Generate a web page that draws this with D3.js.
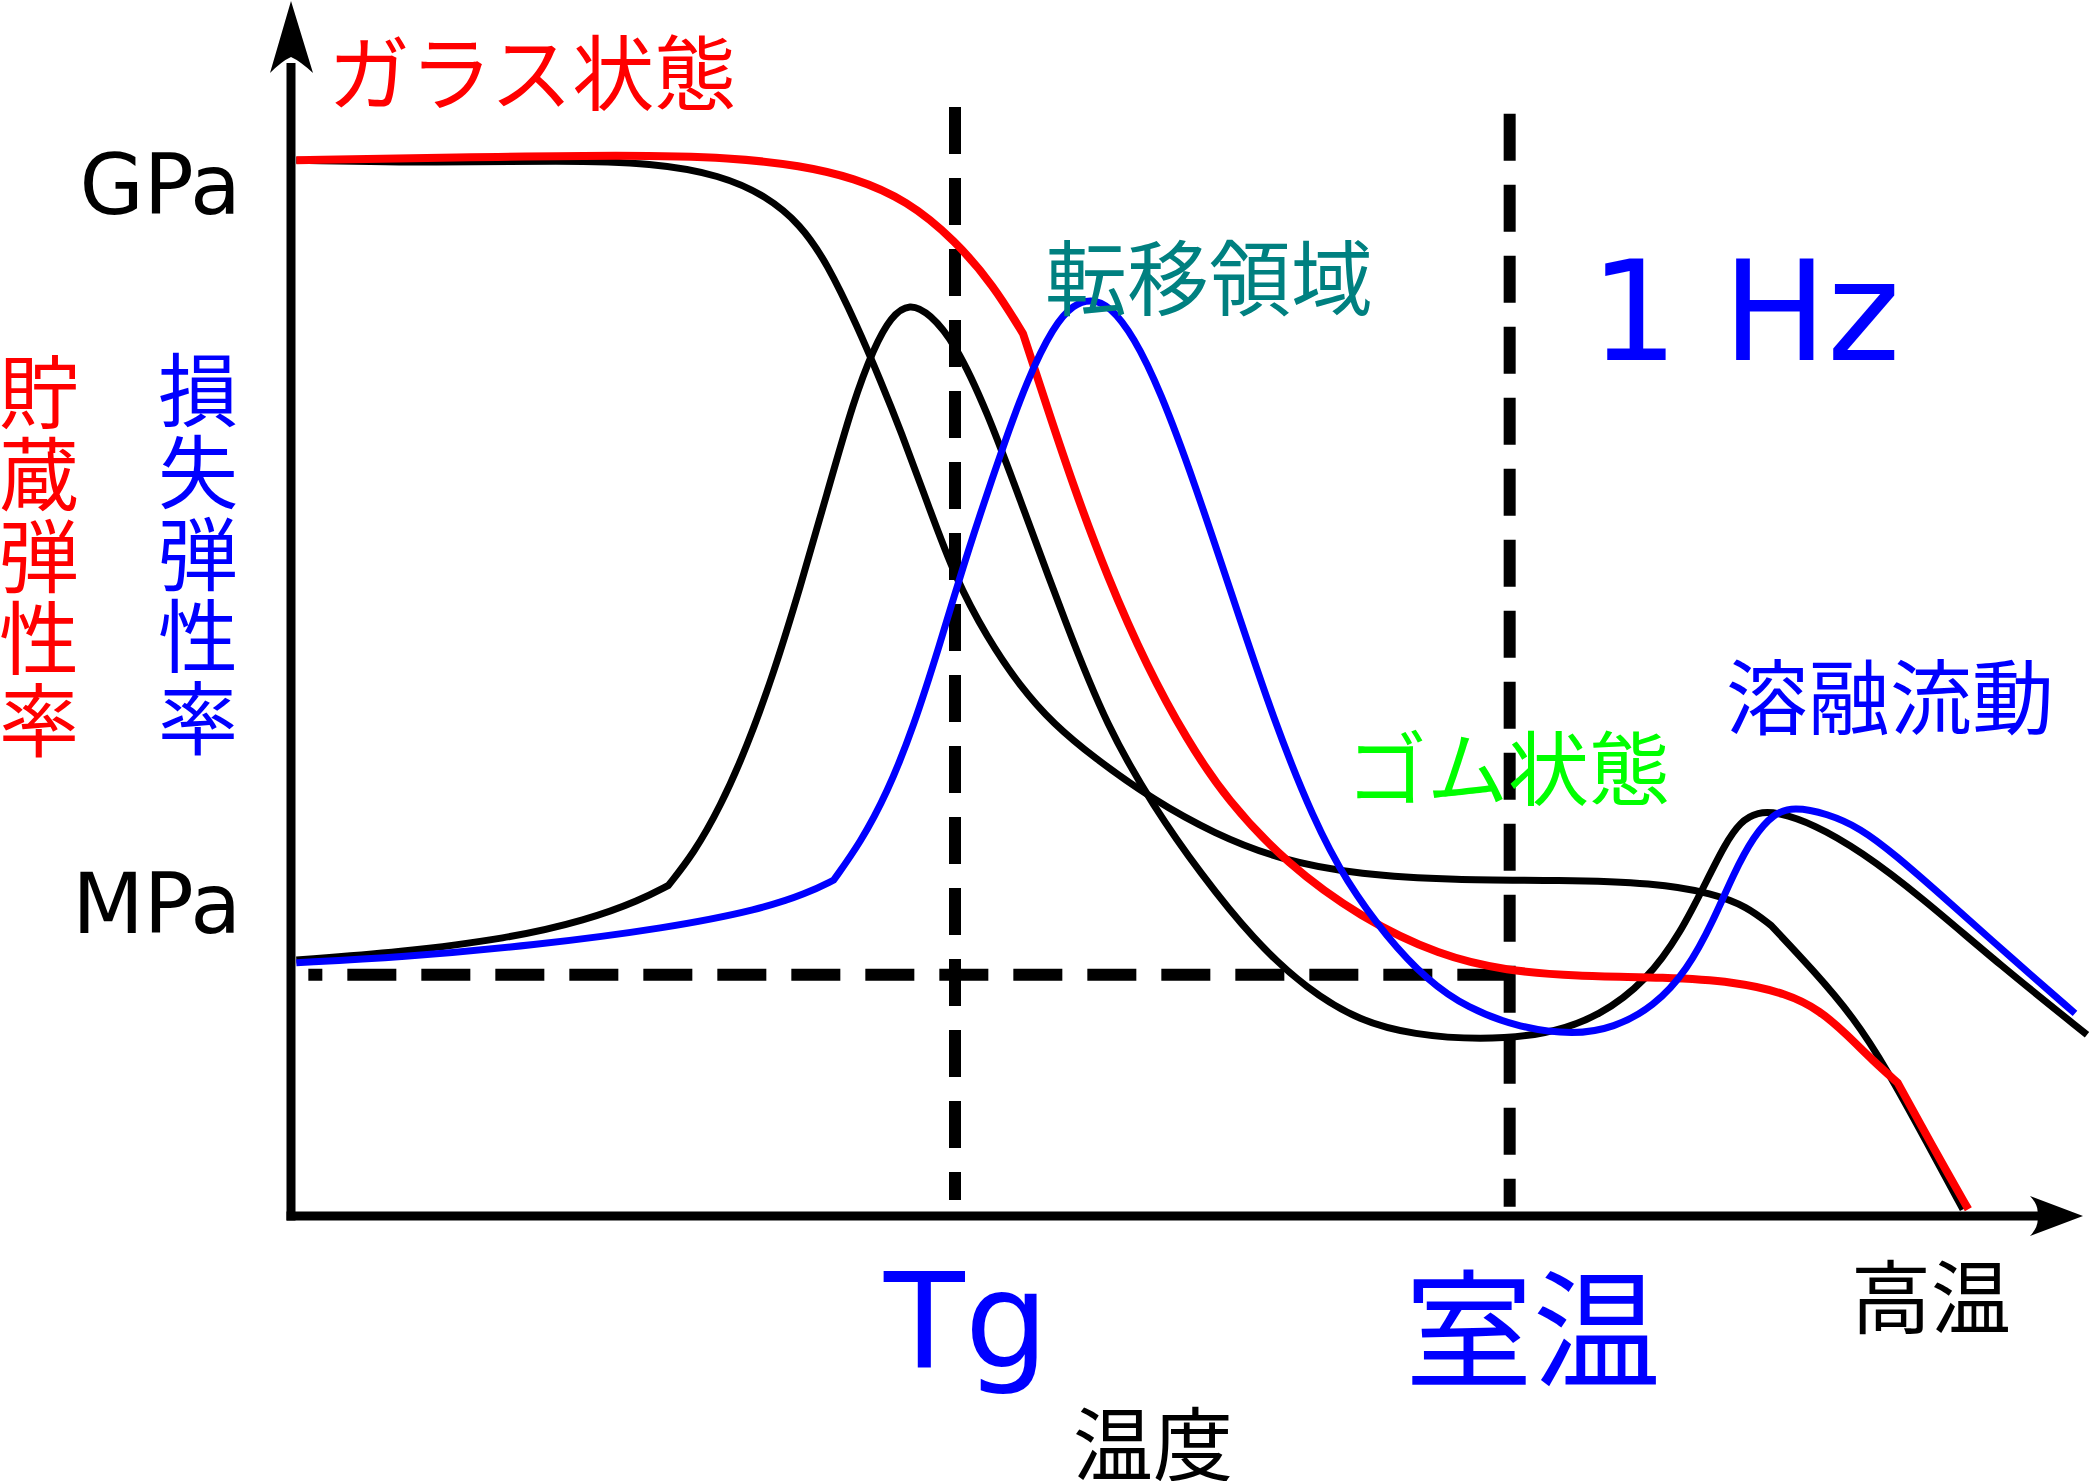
<!DOCTYPE html>
<html><head><meta charset="utf-8">
<script src="https://cdn.jsdelivr.net/npm/d3@7"></script>
<style>html,body{margin:0;padding:0;background:#fff;} svg{display:block}</style>
</head><body>
<svg id="chart" width="2091" height="1481"></svg>
<script>
// ---- data (relative temperature, relative log-modulus) ----
const storageRed = [[4,792],[122,794],[252,796],[332,794],[382,788],[422,779],[462,762],[498,732],[527,698],[549,662],[567,607],[587,547],[612,480],[642,412],[672,357],[702,312],[747,264],[802,224],[862,195],[912,184],[962,180],[1032,179],[1082,176],[1122,167],[1147,154],[1167,136],[1187,116],[1205,100],[1222,69],[1242,33],[1258,5]];
const storageBlack = [[4,792],[112,790],[202,792],[272,790],[322,781],[357,765],[382,744],[402,715],[425,667],[442,627],[457,590],[478,533],[498,479],[522,434],[547,397],[572,369],[602,344],[647,312],[692,287],[742,267],[802,256],[872,252],[952,252],[1022,250],[1067,242],[1092,232],[1110,218],[1142,184],[1172,149],[1197,110],[1227,55],[1254,5]];
const lossBlack = [[4,192],[82,198],[162,208],[222,222],[262,237],[283,248],[302,272],[322,307],[342,352],[362,407],[382,472],[402,542],[422,612],[437,651],[450,675],[464,685],[479,677],[498,655],[522,604],[547,537],[582,442],[612,367],[647,307],[682,257],[722,207],[762,170],[802,146],[842,136],[892,132],[942,136],[982,150],[1017,177],[1042,212],[1062,252],[1075,278],[1087,296],[1100,303],[1115,303],[1142,294],[1177,274],[1222,240],[1282,188],[1347,136]];
const lossBlue = [[4,190],[82,194],[182,203],[282,216],[352,230],[387,242],[407,252],[427,280],[447,317],[467,367],[487,430],[500,474],[517,527],[534,577],[552,627],[572,668],[587,684],[600,688],[614,683],[632,660],[652,619],[677,552],[707,462],[737,372],[767,297],[792,250],[822,209],[852,177],[882,156],[922,141],[962,136],[992,141],[1022,157],[1047,184],[1067,222],[1082,257],[1097,285],[1112,302],[1127,307],[1152,302],[1177,291],[1202,272],[1242,237],[1292,192],[1338,152]];
// indices of sharp corners in each series
const redCorners = [9, 27];
const blackStorageCorners = [26];
const blackLossCorners = [5];
const blueCorners = [6];
const refTemps = [498, 914];           // Tg, room temperature
const refModulus = 181;                 // horizontal reference level
const yTickLabels = ["GPa", "MPa"];
const yTickValues = [752, 212];
const xTickLabels = ["Tg", "室温", "高温"];
const storageTitle = "貯蔵弾性率";
const lossTitle = "損失弾性率";
const regionLabels = ["ガラス状態", "転移領域", "ゴム状態", "溶融流動"];
const freqLabel = "1 Hz";
const xTitle = "温度";

// ---- scales ----
const x = d3.scaleLinear().domain([0, 1344]).range([291, 2083]);
const y = d3.scaleLinear().domain([0, 910]).range([1216, 3]);
const svg = d3.select("#chart");
svg.append("rect").attr("width",2091).attr("height",1481).attr("fill","#fff");

const JP = "'Noto Sans CJK JP', 'Noto Sans CJK SC', sans-serif";
const LAT = "'DejaVu Sans', sans-serif";

// ---- reference dashed lines ----
svg.append("line").attr("x1", x(refTemps[0])).attr("x2", x(refTemps[0]))
  .attr("y1", y(832)).attr("y2", y(12))
  .attr("stroke","#000").attr("stroke-width",12).attr("stroke-dasharray","47,24");
svg.append("line").attr("x1", x(refTemps[1])).attr("x2", x(refTemps[1]))
  .attr("y1", y(827)).attr("y2", y(7))
  .attr("stroke","#000").attr("stroke-width",12).attr("stroke-dasharray","47,24");
svg.append("line").attr("x1", x(13)).attr("x2", x(916))
  .attr("y1", y(refModulus)).attr("y2", y(refModulus))
  .attr("stroke","#000").attr("stroke-width",12).attr("stroke-dasharray","49,25").attr("stroke-dashoffset",35);

// ---- curves ----
const line = d3.line().x(d => x(d[0])).y(d => y(d[1])).curve(d3.curveBasis);
function drawCurve(data, corners, color, w) {
  const cuts = [0, ...corners, data.length - 1];
  let d = "";
  for (let i = 0; i < cuts.length - 1; i++) {
    const seg = line(data.slice(cuts[i], cuts[i + 1] + 1));
    d += i === 0 ? seg : "L" + seg.slice(1).replace(/^[^CL]*/, m => m);
  }
  svg.append("path").attr("d", d).attr("fill","none")
    .attr("stroke", color).attr("stroke-width", w)
    .attr("stroke-linejoin","miter").attr("stroke-linecap","butt");
}
drawCurve(storageBlack, blackStorageCorners, "#000", 7);
drawCurve(lossBlack, blackLossCorners, "#000", 7);
drawCurve(storageRed, redCorners, "#ff0000", 8);
drawCurve(lossBlue, blueCorners, "#0000ff", 7);

// ---- axes ----
const x0 = x.range()[0], y0 = y.range()[0];
const xEnd = x.range()[1], yEnd = y.range()[1];
svg.append("line").attr("x1", x0).attr("x2", x0).attr("y1", y0 + 4.5).attr("y2", yEnd + 60)
  .attr("stroke","#000").attr("stroke-width",9);
svg.append("line").attr("x1", x0 - 4.5).attr("x2", xEnd - 45).attr("y1", y0).attr("y2", y0)
  .attr("stroke","#000").attr("stroke-width",9);
svg.append("path").attr("fill","#000")
  .attr("d", `M${x0},${yEnd-2} L${x0+22},${yEnd+70} Q${x0+9},${yEnd+58} ${x0},${yEnd+54} Q${x0-9},${yEnd+58} ${x0-21},${yEnd+70} Z`);
svg.append("path").attr("fill","#000")
  .attr("d", `M${xEnd},${y0} L${xEnd-53},${y0-20} Q${xEnd-43},${y0-9} ${xEnd-46},${y0} Q${xEnd-43},${y0+9} ${xEnd-53},${y0+20} Z`);

// ---- y tick labels ----
yTickLabels.forEach((t, i) => {
  svg.append("text").text(t).attr("x", x0 - 50).attr("y", y(yTickValues[i]))
    .attr("text-anchor","end").attr("font-family", LAT).attr("font-size", 83).attr("fill","#000");
});

// ---- x labels ----
svg.append("text").text(xTickLabels[0]).attr("x", x(refTemps[0]) - 71).attr("y", 1367)
  .attr("font-family", LAT).attr("font-size", 132).attr("fill","#0000ff");
svg.append("text").text(xTickLabels[1]).attr("x", x(refTemps[1]) - 105).attr("y", 1322)
  .attr("dominant-baseline","central").attr("font-family", JP).attr("font-size", 128).attr("fill","#0000ff");
svg.append("text").text(xTickLabels[2]).attr("x", 1851).attr("y", 1292)
  .attr("dominant-baseline","central").attr("font-family", JP).attr("font-size", 80).attr("fill","#000");
svg.append("text").text(xTitle).attr("x", 1073).attr("y", 1439)
  .attr("dominant-baseline","central").attr("font-family", JP).attr("font-size", 80).attr("fill","#000");

// ---- vertical axis titles ----
function vText(str, cx, cy0, color) {
  const t = svg.append("text").attr("font-family", JP).attr("font-size", 80).attr("fill", color)
    .attr("text-anchor","middle").attr("dominant-baseline","central");
  Array.from(str).forEach((ch, i) => {
    t.append("tspan").attr("x", cx).attr("y", cy0 + i * 82).text(ch);
  });
}
vText(storageTitle, 39, 387, "#ff0000");
vText(lossTitle, 198, 385, "#0000ff");

// ---- region labels ----
const regionStyle = [
  {x: 328, y: 68, c: "#ff0000", s: 82},
  {x: 1045, y: 273, c: "#008080", s: 82},
  {x: 1346, y: 763, c: "#00ff00", s: 81},
  {x: 1726, y: 692, c: "#0000ff", s: 82}
];
regionLabels.forEach((t, i) => {
  const s = regionStyle[i];
  svg.append("text").text(t).attr("x", s.x).attr("y", s.y).attr("dominant-baseline","central")
    .attr("font-family", JP).attr("font-size", s.s).attr("fill", s.c);
});
svg.append("text").text(freqLabel).attr("x", 1590).attr("y", 360)
  .attr("font-family", LAT).attr("font-size", 139).attr("fill","#0000ff");
</script>
</body></html>
